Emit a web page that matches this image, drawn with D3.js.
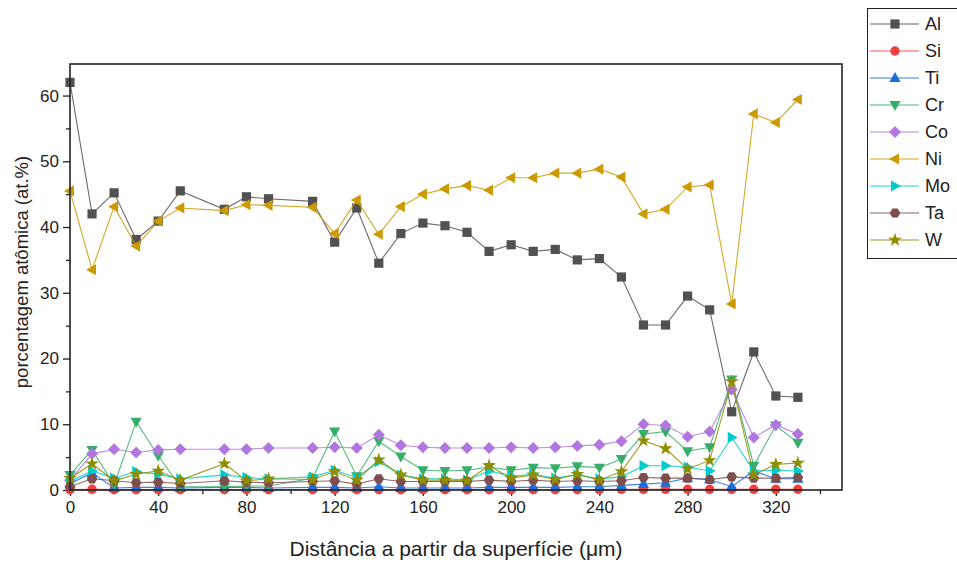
<!DOCTYPE html>
<html>
<head>
<meta charset="utf-8">
<script src="https://cdn.jsdelivr.net/npm/d3@7"></script>
<style>
  html, body { margin: 0; padding: 0; background: #fff; }
  svg { display: block; }
  text { font-family: Arial, "Liberation Sans", sans-serif; fill: #222; }
</style>
</head>
<body>
<svg id="chart" width="957" height="563"></svg>
<script>
// Depth from the surface (µm)
const distance = [0, 10, 20, 30, 40, 50, 70, 80, 90, 110, 120, 130, 140, 150, 160, 170,
                  180, 190, 200, 210, 220, 230, 240, 250, 260, 270, 280, 290, 300, 310, 320, 330];

// Atomic percentages per element
const Al = [62.0, 42.0, 45.2, 38.1, 40.9, 45.5, 42.7, 44.6, 44.3, 43.9, 37.7, 42.9, 34.5, 39.0, 40.6, 40.2,
            39.2, 36.3, 37.3, 36.3, 36.6, 35.0, 35.2, 32.4, 25.1, 25.1, 29.5, 27.4, 11.9, 21.0, 14.3, 14.1];
const Si = [0.05, 0.1, 0.05, 0.05, 0.05, 0.05, 0.05, 0.05, 0.05, 0.05, 0.05, 0.05, 0.05, 0.05, 0.05, 0.05,
            0.05, 0.05, 0.05, 0.05, 0.05, 0.05, 0.05, 0.1, 0.1, 0.1, 0.1, 0.1, 0.1, 0.1, 0.1, 0.1];
const Ti = [1.0, 2.6, 0.3, 0.4, 0.4, 0.3, 0.4, 0.4, 0.3, 0.4, 0.4, 0.3, 0.5, 0.3, 0.3, 0.3,
            0.3, 0.4, 0.4, 0.4, 0.4, 0.5, 0.5, 0.7, 0.9, 1.1, 1.8, 1.6, 0.5, 2.9, 1.7, 1.7];
const Cr = [2.3, 6.1, 0.8, 10.4, 5.2, 0.5, 0.5, 0.6, 0.6, 1.8, 8.9, 2.1, 7.4, 5.1, 3.0, 2.9,
            3.0, 3.5, 3.0, 3.4, 3.3, 3.6, 3.4, 4.7, 8.5, 8.9, 5.9, 6.5, 16.8, 3.7, 9.8, 7.2];
const Co = [1.5, 5.5, 6.2, 5.7, 6.1, 6.2, 6.2, 6.2, 6.4, 6.4, 6.5, 6.4, 8.4, 6.8, 6.5, 6.4,
            6.4, 6.4, 6.5, 6.4, 6.5, 6.7, 6.9, 7.4, 10.0, 9.8, 8.1, 8.9, 15.3, 8.0, 9.9, 8.5];
const Ni = [45.5, 33.5, 43.1, 37.1, 40.9, 42.9, 42.5, 43.4, 43.3, 43.0, 39.0, 44.1, 38.9, 43.1, 45.0, 45.8,
            46.3, 45.6, 47.5, 47.5, 48.2, 48.2, 48.8, 47.6, 42.0, 42.7, 46.1, 46.4, 28.3, 57.2, 55.9, 59.4];
const Mo = [1.3, 2.9, 1.8, 2.8, 2.4, 1.7, 2.3, 1.9, 1.7, 2.0, 3.0, 1.9, 4.3, 2.3, 1.7, 1.7,
            1.5, 2.9, 2.1, 2.4, 1.8, 2.3, 1.7, 2.0, 3.7, 3.7, 3.5, 2.9, 8.0, 2.9, 3.0, 2.9];
const Ta = [0.5, 1.7, 1.4, 1.1, 1.2, 1.0, 1.4, 1.2, 1.1, 1.3, 1.4, 0.9, 1.7, 1.3, 1.3, 1.3,
            1.3, 1.5, 1.3, 1.5, 1.3, 1.4, 1.3, 1.4, 1.9, 1.8, 1.8, 1.6, 2.0, 1.8, 1.8, 1.9];
const W  = [1.8, 4.0, 1.4, 2.4, 2.9, 1.5, 4.0, 1.4, 1.7, 1.6, 2.8, 1.5, 4.6, 2.3, 1.5, 1.5,
            1.4, 3.7, 1.8, 2.3, 1.6, 2.4, 1.5, 2.8, 7.5, 6.3, 3.2, 4.5, 16.5, 2.3, 3.9, 4.1];

const elements = ["Al", "Si", "Ti", "Cr", "Co", "Ni", "Mo", "Ta", "W"];
const values = [Al, Si, Ti, Cr, Co, Ni, Mo, Ta, W];
const colors = ["#515151", "#F14040", "#1A6FDF", "#37AD6B", "#B177DE", "#CC9900", "#00CBCC", "#7D4E4E", "#8E8E00"];

const xTicks = [0, 40, 80, 120, 160, 200, 240, 280, 320];
const yTicks = [0, 10, 20, 30, 40, 50, 60];

const xLabel = "Distância a partir da superfície (\u03BCm)";
const yLabel = "porcentagem atômica (at.%)";

const svg = d3.select("#chart");
const m = { left: 70, top: 64, right: 842, bottom: 490 };

const x = d3.scaleLinear().domain([0, 350]).range([m.left, m.right]);
const y = d3.scaleLinear().domain([0, 64.8]).range([m.bottom, m.top]);

// Marker shapes, roughly area-matched
function markerPath(kind) {
  const s = 4.6;
  switch (kind) {
    case "square": return `M${-s},${-s}H${s}V${s}H${-s}Z`;
    case "circle": return d3.symbol(d3.symbolCircle, 70)();
    case "up": return `M0,${-6}L${5.6},${4}L${-5.6},${4}Z`;
    case "down": return `M0,${6}L${5.6},${-4}L${-5.6},${-4}Z`;
    case "diamond": return `M0,${-6}L${6},0L0,${6}L${-6},0Z`;
    case "left": return `M${-6},0L${4},${-5.6}L${4},${5.6}Z`;
    case "right": return `M${6},0L${-4},${-5.6}L${-4},${5.6}Z`;
    case "hex": {
      const r = 5.3; const pts = [];
      for (let i = 0; i < 6; i++) { const a = Math.PI / 3 * i; pts.push([r * Math.cos(a), r * Math.sin(a)]); }
      return "M" + pts.map(p => p.join(",")).join("L") + "Z";
    }
    case "star": return d3.symbol(d3.symbolStar, 60)();
  }
}
const shapes = ["square", "circle", "up", "down", "diamond", "left", "right", "hex", "star"];

// Axes
const xAxis = d3.axisBottom(x).tickValues(xTicks).tickSize(6).tickPadding(5).tickFormat(d3.format("d"));
const xMinor = d3.axisBottom(x).tickValues(d3.range(20, 350, 40)).tickSize(4).tickFormat("");
const yAxis = d3.axisLeft(y).tickValues(yTicks).tickSize(7).tickPadding(4).tickFormat(d3.format("d"));
const yMinor = d3.axisLeft(y).tickValues(d3.range(5, 65, 10)).tickSize(4).tickFormat("");

function styleAxis(g) {
  g.select(".domain").remove();
  g.selectAll("line").attr("stroke", "#222").attr("stroke-width", 1.3);
  g.selectAll("text").style("font-size", "17px").attr("fill", "#222");
}

svg.append("g").attr("transform", `translate(0,${m.bottom})`).call(xMinor).call(styleAxis);
svg.append("g").attr("transform", `translate(0,${m.bottom})`).call(xAxis).call(styleAxis);
svg.append("g").attr("transform", `translate(${m.left},0)`).call(yMinor).call(styleAxis);
svg.append("g").attr("transform", `translate(${m.left},0)`).call(yAxis).call(styleAxis);

// Series
const line = d3.line().x((d, i) => x(distance[i])).y(d => y(d));
const plot = svg.append("g");
elements.forEach((el, k) => {
  const g = plot.append("g").attr("class", "series-" + el);
  g.append("path")
    .datum(values[k])
    .attr("d", line)
    .attr("fill", "none")
    .attr("stroke", colors[k])
    .attr("stroke-opacity", 0.85)
    .attr("stroke-width", 1.1);
  g.selectAll("path.mk")
    .data(values[k])
    .join("path")
    .attr("class", "mk")
    .attr("d", markerPath(shapes[k]))
    .attr("transform", (d, i) => `translate(${x(distance[i])},${y(d)})`)
    .attr("fill", colors[k]);
});

// Frame
svg.append("rect")
  .attr("x", m.left).attr("y", m.top)
  .attr("width", m.right - m.left).attr("height", m.bottom - m.top)
  .attr("fill", "none").attr("stroke", "#222").attr("stroke-width", 1.6);

// Axis titles
svg.append("text")
  .attr("x", 456).attr("y", 556)
  .attr("text-anchor", "middle")
  .style("font-size", "21px")
  .text(xLabel);
svg.append("text")
  .attr("transform", `translate(28,272) rotate(-90)`)
  .attr("text-anchor", "middle")
  .style("font-size", "18.5px")
  .text(yLabel);

// Legend
const lg = svg.append("g");
lg.append("rect")
  .attr("x", 867.5).attr("y", 8.5).attr("width", 95).attr("height", 250)
  .attr("fill", "#fff").attr("stroke", "#222").attr("stroke-width", 1);
elements.forEach((el, k) => {
  const cy = 24 + k * 27;
  lg.append("line")
    .attr("x1", 870).attr("x2", 919).attr("y1", cy).attr("y2", cy)
    .attr("stroke", colors[k]).attr("stroke-opacity", 0.6).attr("stroke-width", 1.5);
  lg.append("path")
    .attr("d", markerPath(shapes[k]))
    .attr("transform", `translate(895,${cy})`)
    .attr("fill", colors[k]);
  lg.append("text")
    .attr("x", 925).attr("y", cy + 6)
    .style("font-size", "18px")
    .text(el);
});
</script>
</body>
</html>
